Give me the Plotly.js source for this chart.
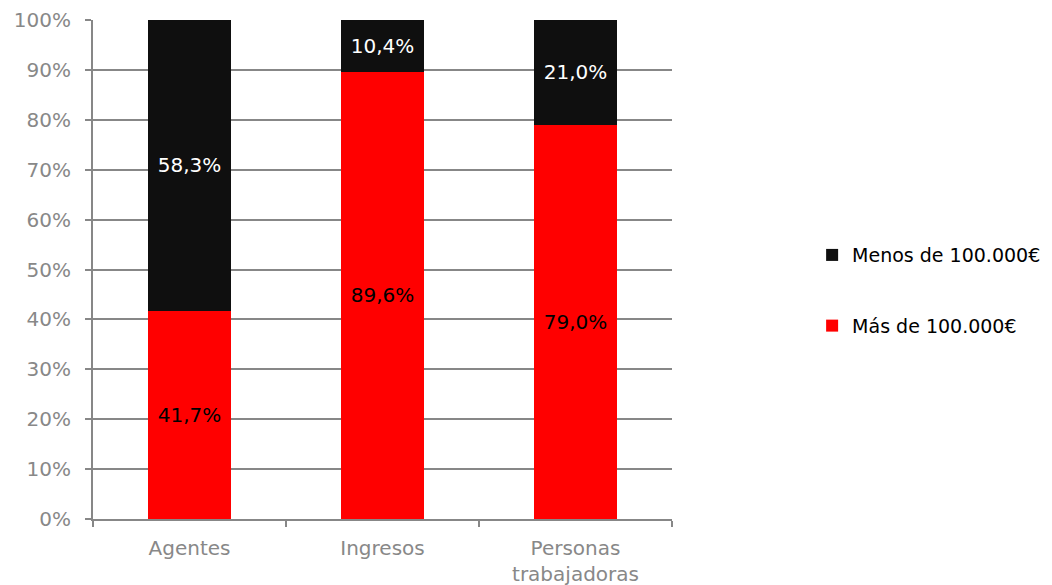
<!DOCTYPE html>
<html>
<head>
<meta charset="utf-8">
<script src="https://cdn.plot.ly/plotly-3.0.1.min.js"></script>
<style>html,body{margin:0;padding:0;background:#fff;}#chart{width:1052px;height:585px;}</style>
</head>
<body>
<div id="chart"></div>
<script>
const categories = ["Agentes", "Ingresos", "Personas<br>trabajadoras"];
const masDe = [41.7, 89.6, 79.0];
const menosDe = [58.3, 10.4, 21.0];
const seriesNames = ["Más de 100.000€", "Menos de 100.000€"];

const font = "DejaVu Sans, Verdana, sans-serif";

const traces = [
  {
    type: "bar", x: categories, y: masDe, name: seriesNames[0], legendgroup: "a", legendrank: 2,
    marker: {color: "#ff0000"},
    texttemplate: "%{y:.1f}%", textposition: "inside", insidetextanchor: "middle",
    textfont: {color: "#000000", size: 20, family: font}, hoverinfo: "skip"
  },
  {
    type: "bar", x: categories, y: menosDe, name: seriesNames[1], legendgroup: "b", legendrank: 1,
    marker: {color: "#0f0f0f"},
    texttemplate: "%{y:.1f}%", textposition: "inside", insidetextanchor: "middle",
    textfont: {color: "#ffffff", size: 20, family: font}, hoverinfo: "skip"
  }
];

const layout = {
  width: 1052, height: 585,
  margin: {l: 93, r: 380, t: 20, b: 66, autoexpand: false},
  barmode: "stack", bargap: 0.565,
  separators: ",.",
  paper_bgcolor: "#ffffff", plot_bgcolor: "#ffffff",
  font: {family: font, color: "#888888", size: 20},
  showlegend: true,
  legend: {
    x: 1.242, xanchor: "left", y: 0.567, yanchor: "top",
    traceorder: "grouped", tracegroupgap: 43,
    font: {family: font, color: "#000000", size: 19},
    bgcolor: "rgba(0,0,0,0)"
  },
  xaxis: {
    type: "category", tickson: "boundaries", ticks: "outside", ticklen: 6, tickwidth: 2,
    tickcolor: "#878787", showline: true, linecolor: "#878787", linewidth: 2,
    ticklabelstandoff: 10,
    showgrid: false, tickfont: {size: 20, color: "#888888", family: font}, fixedrange: true
  },
  yaxis: {
    range: [0, 100], dtick: 10, tick0: 0, ticksuffix: "%",
    ticks: "outside", ticklen: 6, tickwidth: 2, tickcolor: "#878787",
    showline: true, linecolor: "#878787", linewidth: 2, ticklabelstandoff: 10,
    showgrid: true, gridcolor: "#878787", gridwidth: 2, zeroline: false,
    tickfont: {size: 20, color: "#888888", family: font}, fixedrange: true
  }
};

Plotly.newPlot("chart", traces, layout, {displayModeBar: false, staticPlot: true});
</script>
</body>
</html>
